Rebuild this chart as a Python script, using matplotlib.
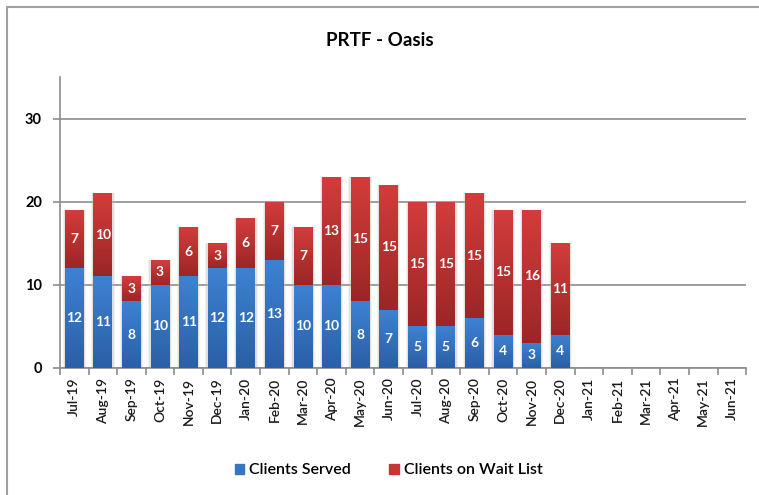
import numpy as np
import matplotlib
matplotlib.use("Agg")
import matplotlib.pyplot as plt
from matplotlib.colors import LinearSegmentedColormap
from matplotlib.lines import Line2D

months = ["Jul-19", "Aug-19", "Sep-19", "Oct-19", "Nov-19", "Dec-19",
          "Jan-20", "Feb-20", "Mar-20", "Apr-20", "May-20", "Jun-20",
          "Jul-20", "Aug-20", "Sep-20", "Oct-20", "Nov-20", "Dec-20",
          "Jan-21", "Feb-21", "Mar-21", "Apr-21", "May-21", "Jun-21"]
served = [12, 11, 8, 10, 11, 12, 12, 13, 10, 10, 8, 7, 5, 5, 6, 4, 3, 4]
wait_list = [7, 10, 3, 3, 6, 3, 6, 7, 7, 13, 15, 15, 15, 15, 15, 15, 16, 11]

plt.rcParams['font.family'] = ['Lato', 'DejaVu Sans']

fig = plt.figure(figsize=(7.59, 4.95), dpi=100)
ax = fig.add_axes([0.079, 0.257, 0.904, 0.587])

blue_cmap = LinearSegmentedColormap.from_list("b", ["#2b5fa6", "#3d82d2"])
red_cmap = LinearSegmentedColormap.from_list("r", ["#9c2626", "#d23d3b"])
grad = np.linspace(0, 1, 64).reshape(-1, 1)

x = np.arange(len(months))
w = 0.66


def gradient_bars(xs, heights, bottoms, cmap):
    bars = ax.bar(xs, heights, w, bottom=bottoms, color="none", zorder=3)
    for b in bars:
        x0, y0 = b.get_x(), b.get_y()
        im = ax.imshow(grad, cmap=cmap, aspect="auto", origin="lower",
                       extent=[x0, x0 + b.get_width(), y0, y0 + b.get_height()],
                       zorder=3)
        im.set_clip_path(b)
        # soft glow around each bar
        for pad, a in [(0.16, 0.18), (0.09, 0.3)]:
            ax.bar(x0 - pad / 2, b.get_height(), b.get_width() + pad, bottom=y0,
                   align="edge", color="#b8b8b8", alpha=a, linewidth=0, zorder=2)
    return bars


n = len(served)
gradient_bars(x[:n], served, 0, blue_cmap)
gradient_bars(x[:n], wait_list, served, red_cmap)

for i in range(n):
    ax.text(x[i], served[i] / 2, str(served[i]), ha="center", va="center",
            color="white", fontsize=10, fontweight="bold", zorder=5)
    ax.text(x[i], served[i] + wait_list[i] / 2, str(wait_list[i]), ha="center",
            va="center", color="white", fontsize=10, fontweight="bold", zorder=5)

ax.set_xlim(-0.5, len(months) - 0.5)
ax.set_ylim(0, 35)
ax.set_yticks([0, 10, 20, 30])
ax.yaxis.grid(True, color="#8c8c8c", linewidth=1.2)
ax.set_axisbelow(True)

ax.set_xticks(x)
ax.set_xticklabels(months, rotation=90, fontsize=10, fontweight="semibold",
                   color="#1a1a1a")
ax.set_xticks(np.arange(-0.5, len(months)), minor=True)
ax.tick_params(axis="x", which="major", length=0, pad=7)
ax.tick_params(axis="x", which="minor", length=5, color="#8c8c8c", width=1.2)
ax.tick_params(axis="y", length=5, color="#8c8c8c", width=1.2, labelsize=10.5, pad=8)
for lab in ax.get_yticklabels():
    lab.set_fontweight("bold")

for s in ["top", "right"]:
    ax.spines[s].set_visible(False)
for s in ["left", "bottom"]:
    ax.spines[s].set_color("#8c8c8c")
    ax.spines[s].set_linewidth(1.2)

fig.text(0.5, 0.918, "PRTF - Oasis", ha="center", va="center",
         fontsize=13.5, fontweight="bold")

handles = [plt.Rectangle((0, 0), 1, 1, color="#3577c4"),
           plt.Rectangle((0, 0), 1, 1, color="#c83432")]
fig.legend(handles, ["Clients Served", "Clients on Wait List"], loc="center",
           bbox_to_anchor=(0.512, 0.05), ncol=2, frameon=False,
           prop={"size": 11.5, "weight": "semibold"},
           handlelength=0.6, handleheight=0.6, handletextpad=0.3, columnspacing=2.4)

# chart frame
fig.add_artist(Line2D([7 / 759, 1], [1 - 7 / 495, 1 - 7 / 495],
                      transform=fig.transFigure, color="#a0a0a0", linewidth=1.5))
fig.add_artist(Line2D([7 / 759, 7 / 759], [0, 1 - 7 / 495],
                      transform=fig.transFigure, color="#a0a0a0", linewidth=1.5))

fig.savefig("out.png", dpi=100)
